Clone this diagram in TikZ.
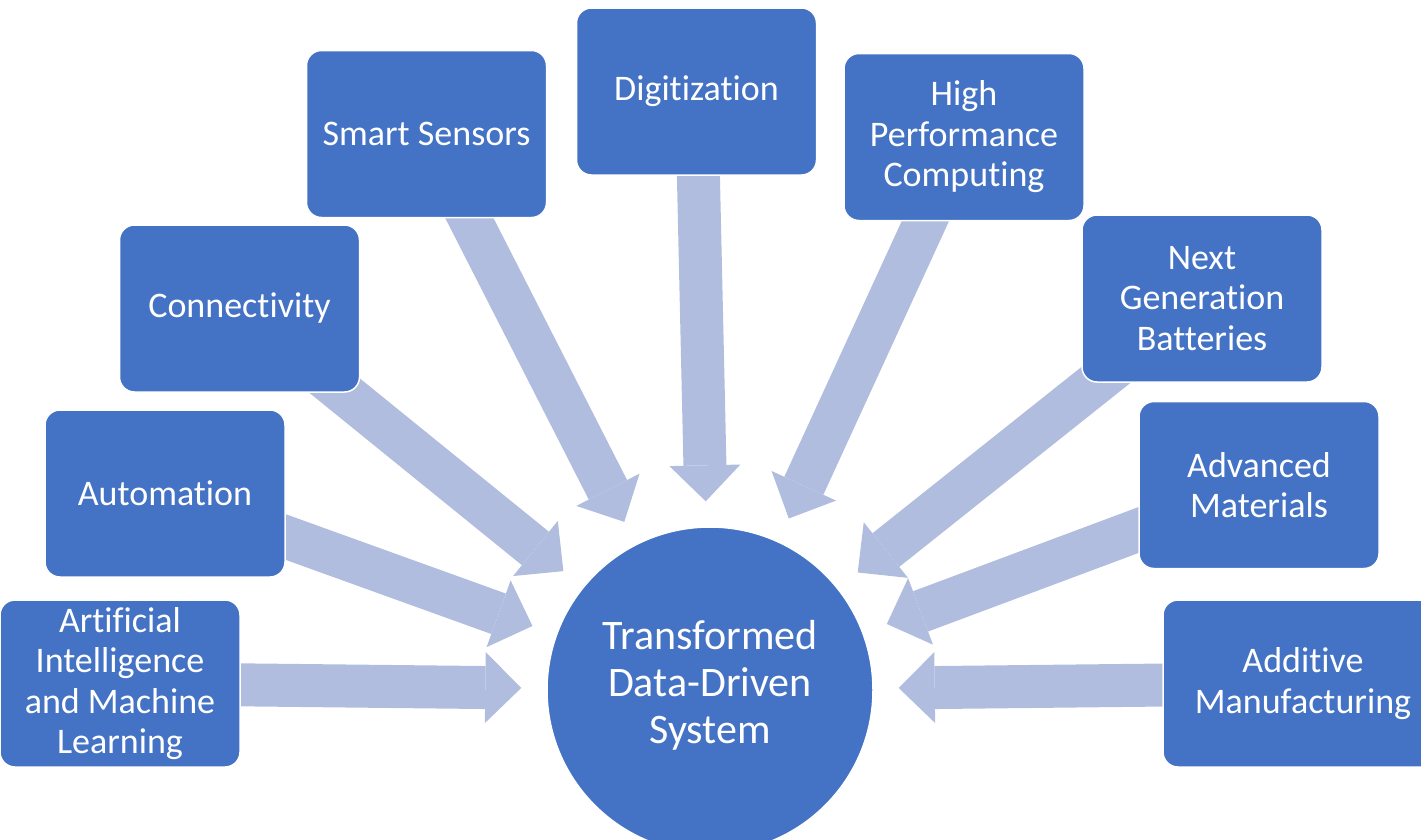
\documentclass[tikz,border=0pt]{standalone}
\usepackage{fontspec}
\setmainfont{Carlito}[Ligatures={NoCommon,NoContextual,NoRequired}]
\usetikzlibrary{arrows.meta,backgrounds}
\definecolor{boxblue}{HTML}{4472C4}
\definecolor{arrowblue}{HTML}{B0BDDE}
\tikzset{
    topic-box/.style = {draw=white, fill=boxblue, line width=1.5pt, rectangle, rounded corners=15pt, minimum width=240pt, minimum height=167pt, inner sep=4pt, align=center, text=white, font=\fontsize{36}{40.5}\selectfont},
    hub-circle/.style = {draw=white, fill=boxblue, line width=1.5pt, circle, minimum size=326pt, inner sep=4pt, align=center, text=white, font=\fontsize{42}{47}\selectfont},
    feed-arrow/.style = {draw=arrowblue, line width=43pt, shorten >=25pt, -{Triangle[length=36pt, width=71pt, line width=0pt]}},
}

\begin{document}
\begin{tikzpicture}[x=1pt, y=-1pt]
\useasboundingbox (0,0) rectangle (1421,839);
\node [hub-circle] (hub) at (710,690) {Transformed\\Data-Driven\\System\\[-30pt]};
\node [topic-box] (aiml) at (120,683.5) {Artificial\\Intelligence\\and Machine\\Learning};
\node [topic-box] (autom) at (165,493.5) {Automation};
\node [topic-box] (conn) at (239.5,308.5) {Connectivity};
\node [topic-box] (sensors) at (426.5,134) {Smart Sensors};
\node [topic-box] (digit) at (696.5,91.5) {Digitization};
\node [topic-box] (hpc) at (964,137) {High\\Performance\\Computing};
\node [topic-box] (batt) at (1202,298.5) {Next\\Generation\\Batteries};
\node [topic-box] (mat) at (1259,485) {Advanced\\Materials};
\node [topic-box, minimum width=280pt] (addm) at (1303,683.5) {Additive\\Manufacturing};
\begin{scope}[on background layer]
\foreach \src in {aiml,autom,conn,sensors,digit,hpc,batt,mat,addm}
    \draw [feed-arrow] (\src.center) -- (hub);
\end{scope}
\end{tikzpicture}
\end{document}
